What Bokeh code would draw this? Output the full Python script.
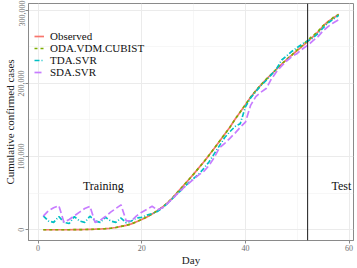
from bokeh.plotting import figure
from bokeh.models import (ColumnDataSource, FixedTicker, NumeralTickFormatter, Legend,
                          LegendItem, Span)
from bokeh.core.properties import value
from bokeh.embed import file_html
from bokeh.resources import INLINE

days = list(range(1, 59))

observed = [0, 0, 0, 0, 0, 0, 100, 200, 300, 500, 700, 1000, 1400, 2000,
            3000, 4500, 6000, 8000, 11000, 14000, 17500, 21500, 26000, 31000,
            37000, 44000, 52000, 60000, 68000, 76000, 84500, 93000, 102000, 111500,
            121000, 130500, 140000, 151000, 161000, 171000, 181000, 190000, 198000, 205500,
            212500, 219500, 226500, 233000, 239000, 245000, 251000, 257000, 263500, 270500,
            278500, 285000, 289500, 294500]

oda_vdm_cubist = [0, 0, 0, 0, 0, 0, 100, 200, 300, 500, 700, 1000, 1400, 2000,
                  3000, 4500, 6000, 8000, 11000, 14000, 17500, 21500, 26000, 31000,
                  37000, 44000, 52000, 60000, 68000, 76000, 84500, 93000, 102000, 111500,
                  121000, 130500, 140000, 151000, 161000, 171000, 181000, 190000, 198000, 205500,
                  212500, 219500, 226500, 233000, 239000, 246000, 252000, 259000, 265000, 271000,
                  279000, 284000, 290500, 294000]

tda_svr = [19000, 12000, 10000, 18000, 10000, 8500, 18000, 12000, 10000, 18500,
           12000, 10000, 17000, 12000, 10000, 16000, 9500, 12000, 16000, 17000,
           20000, 22000, 25000, 30000, 36000, 43000, 50000, 57000, 64000, 70000,
           76000, 84000, 93000, 104000, 115000, 126000, 134000, 141000, 145000, 168000,
           180000, 189000, 197000, 204000, 212000, 220000, 232000, 238000, 244000, 249000,
           254000, 258000, 262000, 268000, 276000, 283000, 288000, 293000]

sda_svr = [18500, 26000, 30000, 33000, 10000, 14000, 19000, 24000, 29000, 32000,
           10000, 13000, 18000, 24000, 29000, 34000, 12000, 12000, 19000, 24000,
           28000, 32000, 27000, 30000, 36000, 43000, 50000, 57000, 63000, 69000,
           75000, 80000, 88000, 99000, 112000, 118000, 125000, 132000, 140000, 147000,
           170000, 182000, 188000, 193000, 206000, 216000, 224000, 231000, 237000, 241000,
           247000, 252000, 258000, 264000, 272000, 278000, 283000, 287000]

series_names = ["Observed", "ODA.VDM.CUBIST", "TDA.SVR", "SDA.SVR"]
series_colors = ["#F8766D", "#7CAE00", "#00BFC4", "#C77CFF"]
series_dash = ["solid", "3 3", "5 2 1 2", "7 3"]

split_day = 52
region_labels = ["Training", "Test"]
region_x = [12.6, 58.5]
region_y = [59500, 59500]

x_ticks = [0, 20, 40, 60]
x_minor = [10, 30, 50]
y_ticks = [0, 100000, 200000, 300000]
y_minor = [50000, 150000, 250000]

FONT = "Liberation Serif"

p = figure(width=357, height=268, output_backend="svg", toolbar_location=None,
           x_range=(-1.85, 60.85), y_range=(-14725, 309225),
           min_border_top=3, min_border_right=4, min_border_left=2, min_border_bottom=2)

p.background_fill_color = "white"
p.outline_line_color = "#8a8a8a"
p.outline_line_width = 1

p.xaxis.ticker = FixedTicker(ticks=x_ticks, minor_ticks=x_minor)
p.yaxis.ticker = FixedTicker(ticks=y_ticks, minor_ticks=y_minor)
p.yaxis.formatter = NumeralTickFormatter(format="0,0")
p.yaxis.major_label_orientation = "vertical"

for ax in (p.xaxis, p.yaxis):
    ax.axis_line_color = "#8a8a8a"
    ax.axis_line_width = 1
    ax.major_tick_line_color = "#8a8a8a"
    ax.major_tick_in = 0
    ax.major_tick_out = 3
    ax.minor_tick_line_color = None
    ax.major_label_text_font = FONT
    ax.major_label_text_font_size = "8px"
    ax.major_label_text_color = "#6e6e6e"
    ax.major_label_standoff = 0
    ax.axis_label_text_font = FONT
    ax.axis_label_text_font_size = "11px"
    ax.axis_label_text_font_style = "normal"
    ax.axis_label_text_color = "#222222"
    ax.axis_label_standoff = 0

p.xaxis.axis_label = "Day"
p.yaxis.axis_label = "Cumulative confirmed cases"

for g in (p.xgrid, p.ygrid):
    g.grid_line_color = "#ebebeb"
    g.grid_line_width = 1
    g.minor_grid_line_color = "#f2f2f2"
    g.minor_grid_line_width = 0.6

src = ColumnDataSource(dict(day=days, observed=observed, oda=oda_vdm_cubist,
                            tda=tda_svr, sda=sda_svr))
cols = ["observed", "oda", "tda", "sda"]
items = []
for name, col, color, dash in zip(series_names, cols, series_colors, series_dash):
    r = p.line("day", col, source=src, line_color=color, line_width=1.7, line_dash=dash)
    items.append(LegendItem(label=name, renderers=[r]))

p.add_layout(Span(location=split_day, dimension="height", line_color="#1a1a1a", line_width=1))

tsrc = ColumnDataSource(dict(x=region_x, y=region_y, t=region_labels))
p.text("x", "y", text="t", source=tsrc, text_font=value(FONT), text_font_size="12px",
       text_align="center", text_baseline="middle", text_color="#111111")

legend = Legend(items=items, location=(6, 162))
legend.background_fill_alpha = 0
legend.border_line_color = None
legend.label_text_font = FONT
legend.label_text_font_size = "11px"
legend.label_text_color = "#111111"
legend.glyph_width = 10
legend.glyph_height = 10
legend.label_height = 10
legend.label_standoff = 6
legend.spacing = 0
legend.padding = 2
legend.margin = 0
p.add_layout(legend)

open("out.html", "w").write(file_html(p, INLINE))
